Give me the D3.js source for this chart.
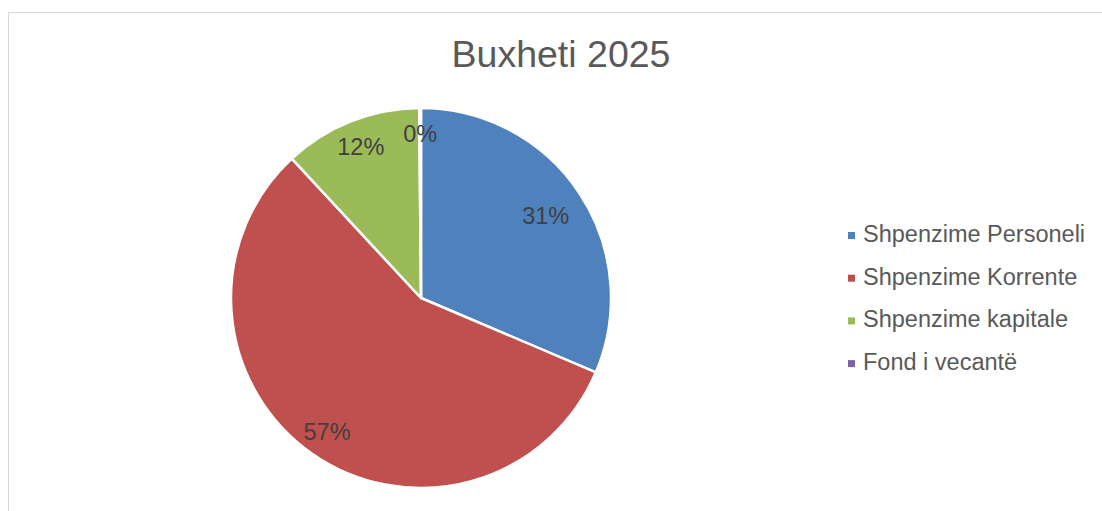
<!DOCTYPE html>
<html><head><meta charset="utf-8">
<script src="https://cdn.jsdelivr.net/npm/d3@7"></script>
<style>body{margin:0;background:#fff;}svg{display:block;}</style>
</head><body>
<script>
const categories = ["Shpenzime Personeli","Shpenzime Korrente","Shpenzime kapitale","Fond i vecantë"];
const values = [31.4, 56.7, 11.75, 0.15];
const title = "Buxheti 2025";

const colors = ["#4f81bd","#c0504d","#9bbb59","#8064a2"];
const labelRadiusFactor = [0.787, 0.86, 0.857, 0.868];
const W = 1102, H = 511;
const cx = 421, cy = 298, R = 190;
const FONT = "Liberation Sans, Arial, sans-serif";

const svg = d3.select("body").append("svg").attr("width", W).attr("height", H);
svg.append("rect").attr("x", 8.5).attr("y", 12.5).attr("width", 1110).attr("height", 520)
  .attr("fill", "#fff").attr("stroke", "#d9d9d9").attr("stroke-width", 1);

svg.append("text").attr("x", 561).attr("y", 67).attr("text-anchor", "middle")
  .attr("font-family", FONT).attr("font-size", 37.5)
  .attr("fill", "#595959").text(title);

const pie = d3.pie().sort(null).value(d => d)(values);
const arc = d3.arc().innerRadius(0).outerRadius(R);
const g = svg.append("g").attr("transform", `translate(${cx},${cy})`);
g.selectAll("path").data(pie).join("path")
  .attr("d", arc).attr("fill", (d, i) => colors[i])
  .attr("stroke", "#fff").attr("stroke-width", 2.5).attr("stroke-linejoin", "round");

const total = d3.sum(values);
const fmt = v => Math.round(v / total * 100) + "%";
g.selectAll("text.lbl").data(pie).join("text").attr("class", "lbl")
  .attr("transform", (d, i) => {
    const a = (d.startAngle + d.endAngle) / 2;
    const r = R * labelRadiusFactor[i];
    return `translate(${r * Math.sin(a)},${-r * Math.cos(a)})`;
  })
  .attr("text-anchor", "middle").attr("dy", "0.36em")
  .attr("font-family", FONT).attr("font-size", 23.5)
  .attr("fill", "#404040").text(d => fmt(d.data));

const leg = svg.append("g").attr("transform", "translate(848,242)");
const rows = leg.selectAll("g").data(categories).join("g")
  .attr("transform", (d, i) => `translate(0,${i * 42.7})`);
rows.append("rect").attr("x", 0).attr("y", -10).attr("width", 7).attr("height", 7)
  .attr("fill", (d, i) => colors[i]);
rows.append("text").attr("x", 15).attr("y", 0)
  .attr("font-family", FONT).attr("font-size", 23.5)
  .attr("fill", "#595959").text(d => d);
</script>
</body></html>
